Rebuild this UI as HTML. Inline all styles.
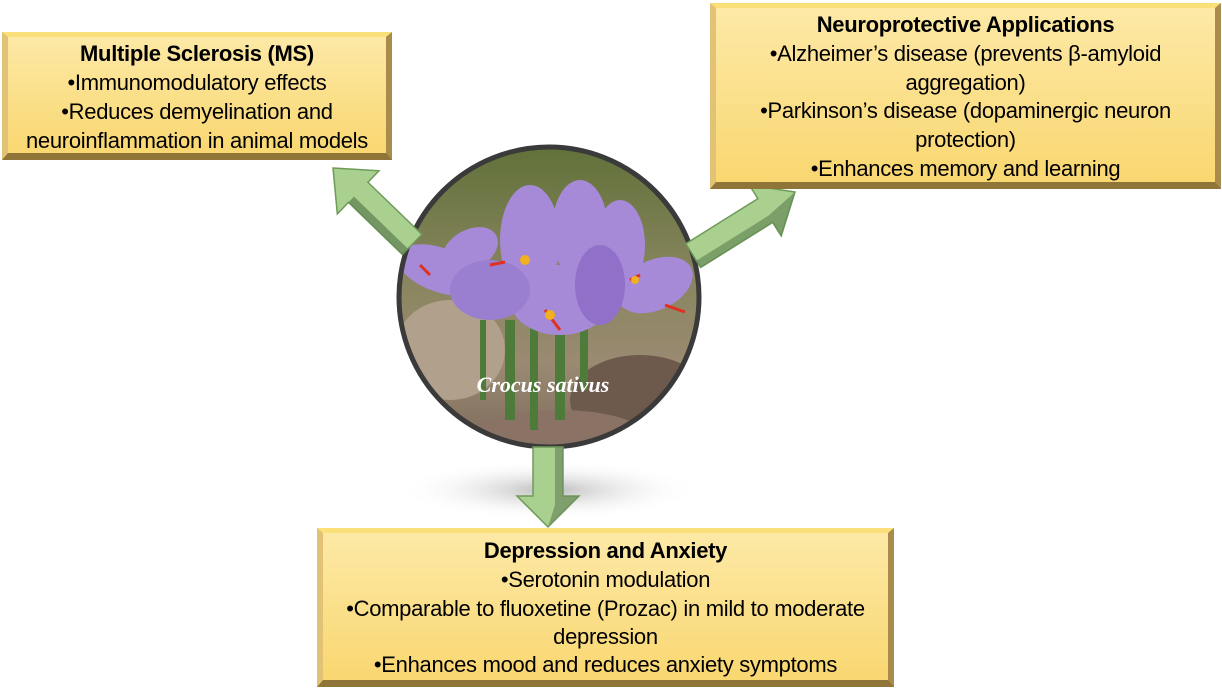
<!DOCTYPE html>
<html><head><meta charset="utf-8"><style>
body{margin:0;width:1222px;height:693px;background:#fff;position:relative;overflow:hidden;font-family:"Liberation Sans",sans-serif;}
.box{position:absolute;box-sizing:border-box;background:linear-gradient(#fde9a6,#f9d771);border-style:solid;border-width:5px 6px 7px 6px;border-color:#fbe07a #a98b4c #8f7538 #e2c275;}
.l{position:absolute;left:-20px;right:-20px;text-align:center;white-space:nowrap;font-size:22px;letter-spacing:-0.3px;color:#000;line-height:28px;}
.b{font-weight:bold;}
</style></head><body>
<svg width="1222" height="693" style="position:absolute;left:0;top:0">
<defs>
<radialGradient id="sh" cx="0.5" cy="0.5" r="0.5"><stop offset="0" stop-color="#bbb"/><stop offset="1" stop-color="#fff" stop-opacity="0"/></radialGradient>
<clipPath id="cc"><circle cx="549" cy="297" r="150"/></clipPath>
<linearGradient id="bg" x1="0" y1="0" x2="0" y2="1"><stop offset="0" stop-color="#5f7038"/><stop offset="0.45" stop-color="#8a8660"/><stop offset="0.7" stop-color="#9a8a72"/><stop offset="1" stop-color="#7a665a"/></linearGradient>
</defs>
<ellipse cx="549" cy="490" rx="150" ry="30" fill="url(#sh)"/>
<g clip-path="url(#cc)">
<rect x="390" y="140" width="320" height="320" fill="url(#bg)"/>
<ellipse cx="450" cy="350" rx="55" ry="50" fill="#b0a08c"/>
<ellipse cx="640" cy="400" rx="70" ry="45" fill="#6e5a4c"/>
<ellipse cx="560" cy="440" rx="90" ry="30" fill="#8a7264"/>
<g fill="#4e7a3a"><rect x="505" y="320" width="10" height="100"/><rect x="530" y="320" width="8" height="110"/><rect x="555" y="320" width="10" height="100"/><rect x="580" y="310" width="8" height="80"/><rect x="480" y="320" width="6" height="80"/></g>
<g fill="#a68ad8">
<ellipse cx="440" cy="270" rx="45" ry="22" transform="rotate(20 440 270)"/>
<ellipse cx="470" cy="250" rx="30" ry="20" transform="rotate(-30 470 250)"/>
<ellipse cx="530" cy="240" rx="30" ry="55"/>
<ellipse cx="580" cy="230" rx="28" ry="50"/>
<ellipse cx="620" cy="245" rx="25" ry="45"/>
<ellipse cx="655" cy="285" rx="40" ry="25" transform="rotate(-25 655 285)"/>
<ellipse cx="560" cy="300" rx="50" ry="35"/>
<ellipse cx="490" cy="290" rx="40" ry="30" fill="#9a7fd0"/>
<ellipse cx="600" cy="285" rx="25" ry="40" fill="#9070c8"/>
</g>
<g stroke="#e03020" stroke-width="3"><line x1="420" y1="265" x2="430" y2="275"/><line x1="490" y1="265" x2="505" y2="262"/><line x1="545" y1="310" x2="560" y2="330"/><line x1="630" y1="280" x2="640" y2="275"/><line x1="665" y1="305" x2="685" y2="312"/></g>
<g fill="#f0b020"><circle cx="525" cy="260" r="5"/><circle cx="550" cy="315" r="5"/><circle cx="635" cy="280" r="4"/></g>
</g>
<circle cx="549" cy="297" r="150" fill="none" stroke="#3a3a3a" stroke-width="5"/>
<text x="543" y="392" text-anchor="middle" font-family="Liberation Serif,serif" font-style="italic" font-weight="bold" font-size="22" fill="#fff">Crocus sativus</text>
<polygon points="533,447 563,447 563,496 579,496 548,527 517,496 533,496" fill="#a9d08e" stroke="#6e9a5a" stroke-width="1.5"/>
<polygon points="555,447 563,447 563,496 579,496 548,527 555,505" fill="#6e8a5e" opacity="0.7"/>
<g transform="translate(333,168) rotate(44)">
<polygon points="0,0 35,-30 35,-14 110,-14 110,14 35,14 35,30" fill="#a9d08e" stroke="#6e9a5a" stroke-width="1.5"/>
<polygon points="35,14 110,14 110,6 35,6" fill="#5e7e50" opacity="0.7"/>
</g>
<g transform="translate(795,192) rotate(148)">
<polygon points="0,0 35,-30 35,-14 120,-14 120,14 35,14 35,30" fill="#a9d08e" stroke="#6e9a5a" stroke-width="1.5"/>
<polygon points="35,-14 120,-14 120,-6 35,-6 0,0 35,-30" fill="#5e7e50" opacity="0.6"/>
</g>
</svg>
<div class="box" style="left:2px;top:32px;width:390px;height:128px">
<div class="l b" style="top:3px">Multiple Sclerosis (MS)</div>
<div class="l" style="top:32px">•Immunomodulatory effects</div>
<div class="l" style="top:61px">•Reduces demyelination and</div>
<div class="l" style="top:90px">neuroinflammation in animal models</div>
</div>
<div class="box" style="left:710px;top:3px;width:511px;height:186px">
<div class="l b" style="top:3px">Neuroprotective Applications</div>
<div class="l" style="top:32px">•Alzheimer’s disease (prevents β-amyloid</div>
<div class="l" style="top:61px">aggregation)</div>
<div class="l" style="top:89px">•Parkinson’s disease (dopaminergic neuron</div>
<div class="l" style="top:118px">protection)</div>
<div class="l" style="top:147px">•Enhances memory and learning</div>
</div>
<div class="box" style="left:317px;top:528px;width:577px;height:159px">
<div class="l b" style="top:4px">Depression and Anxiety</div>
<div class="l" style="top:33px">•Serotonin modulation</div>
<div class="l" style="top:62px">•Comparable to fluoxetine (Prozac) in mild to moderate</div>
<div class="l" style="top:90px">depression</div>
<div class="l" style="top:118px">•Enhances mood and reduces anxiety symptoms</div>
</div>
</body></html>
